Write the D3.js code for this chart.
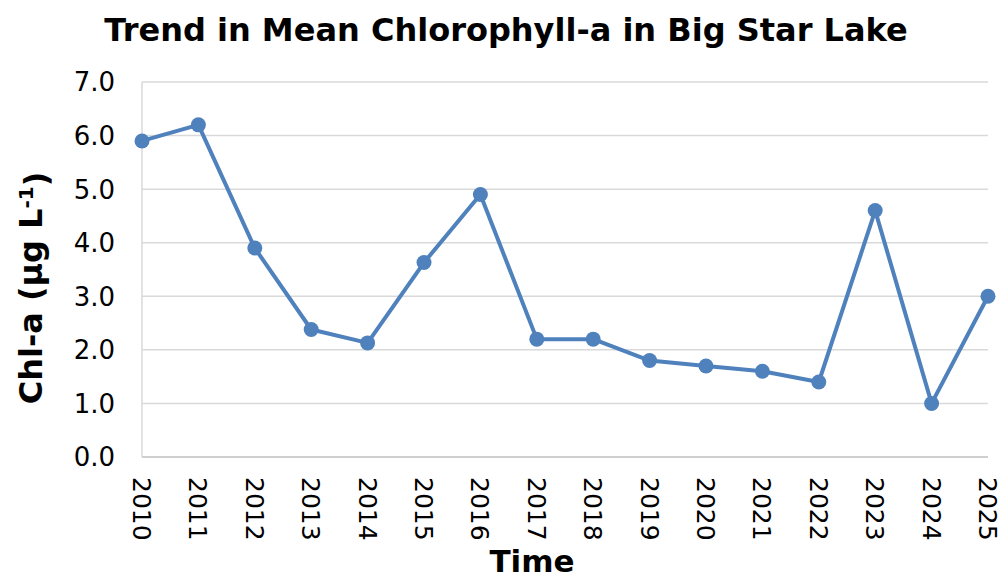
<!DOCTYPE html>
<html>
<head>
<meta charset="utf-8">
<script src="https://cdn.jsdelivr.net/npm/d3@7"></script>
<style>
  body { margin: 0; background: #fff; }
  text { font-family: "DejaVu Sans", Verdana, sans-serif; fill: #000; }
</style>
</head>
<body>
<svg id="chart" width="1003" height="578"></svg>
<script>
// data
let years = [2010, 2011, 2012, 2013, 2014, 2015, 2016, 2017, 2018, 2019, 2020, 2021, 2022, 2023, 2024, 2025];
let chla = [5.9, 6.2, 3.9, 2.38, 2.13, 3.63, 4.9, 2.2, 2.2, 1.8, 1.7, 1.6, 1.4, 4.6, 1.0, 3.0];
let yTicks = [0, 1, 2, 3, 4, 5, 6, 7];

let margin = { left: 142, right: 15, top: 82, bottom: 121 };
let width = 1003 - margin.left - margin.right;
let height = 578 - margin.top - margin.bottom;

let svg = d3.select("#chart");
let g = svg.append("g").attr("transform", `translate(${margin.left},${margin.top})`);

let x = d3.scalePoint().domain(years).range([0, width]);
let y = d3.scaleLinear().domain([0, 7]).range([height, 0]);

// gridlines
g.append("g")
    .selectAll("line")
    .data(yTicks)
    .enter().append("line")
    .attr("x1", 0)
    .attr("x2", width)
    .attr("y1", d => y(d))
    .attr("y2", d => y(d))
    .attr("stroke", "#d9d9d9")
    .attr("stroke-width", 1.5);

// axis lines
g.append("line")
    .attr("x1", 0).attr("x2", 0)
    .attr("y1", 0).attr("y2", height)
    .attr("stroke", "#d9d9d9").attr("stroke-width", 1.5);
g.append("line")
    .attr("x1", 0).attr("x2", width)
    .attr("y1", height).attr("y2", height)
    .attr("stroke", "#c8c8c8").attr("stroke-width", 1.5);

// y tick labels
g.append("g")
    .selectAll("text")
    .data(yTicks)
    .enter().append("text")
    .attr("x", -27)
    .attr("y", d => y(d))
    .attr("dy", "0.36em")
    .attr("text-anchor", "end")
    .style("font-size", "26px")
    .text(d => d.toFixed(1));

// x tick labels, rotated
g.append("g")
    .selectAll("text")
    .data(years)
    .enter().append("text")
    .attr("transform", d => `translate(${x(d)},${height + 20}) rotate(90)`)
    .attr("dy", "0.36em")
    .attr("text-anchor", "start")
    .style("font-size", "25px")
    .text(d => d);

// line + markers
let pts = years.map((yr, i) => ({ year: yr, value: chla[i] }));
g.append("path")
    .datum(pts)
    .attr("fill", "none")
    .attr("stroke", "#4f81bd")
    .attr("stroke-width", 4)
    .attr("stroke-linejoin", "round")
    .attr("d", d3.line().x(d => x(d.year)).y(d => y(d.value)));

g.selectAll(".dot")
    .data(pts)
    .enter().append("circle")
    .attr("class", "dot")
    .attr("cx", d => x(d.year))
    .attr("cy", d => y(d.value))
    .attr("r", 7.5)
    .attr("fill", "#4f81bd");

// title
svg.append("text")
    .attr("x", 506)
    .attr("y", 41)
    .attr("text-anchor", "middle")
    .style("font-size", "32px")
    .style("font-weight", "bold")
    .text("Trend in Mean Chlorophyll-a in Big Star Lake");

// axis titles
svg.append("text")
    .attr("x", 532)
    .attr("y", 572)
    .attr("text-anchor", "middle")
    .style("font-size", "31px")
    .style("font-weight", "bold")
    .text("Time");

let yt = svg.append("text")
    .attr("transform", "translate(42,288) rotate(-90)")
    .attr("text-anchor", "middle")
    .style("font-size", "32px")
    .style("font-weight", "bold");
yt.append("tspan").text("Chl-a (μg L");
yt.append("tspan").attr("dy", "-0.45em").style("font-size", "20px").text("-1");
yt.append("tspan").attr("dy", "0.45em").text(")");
</script>
</body>
</html>
